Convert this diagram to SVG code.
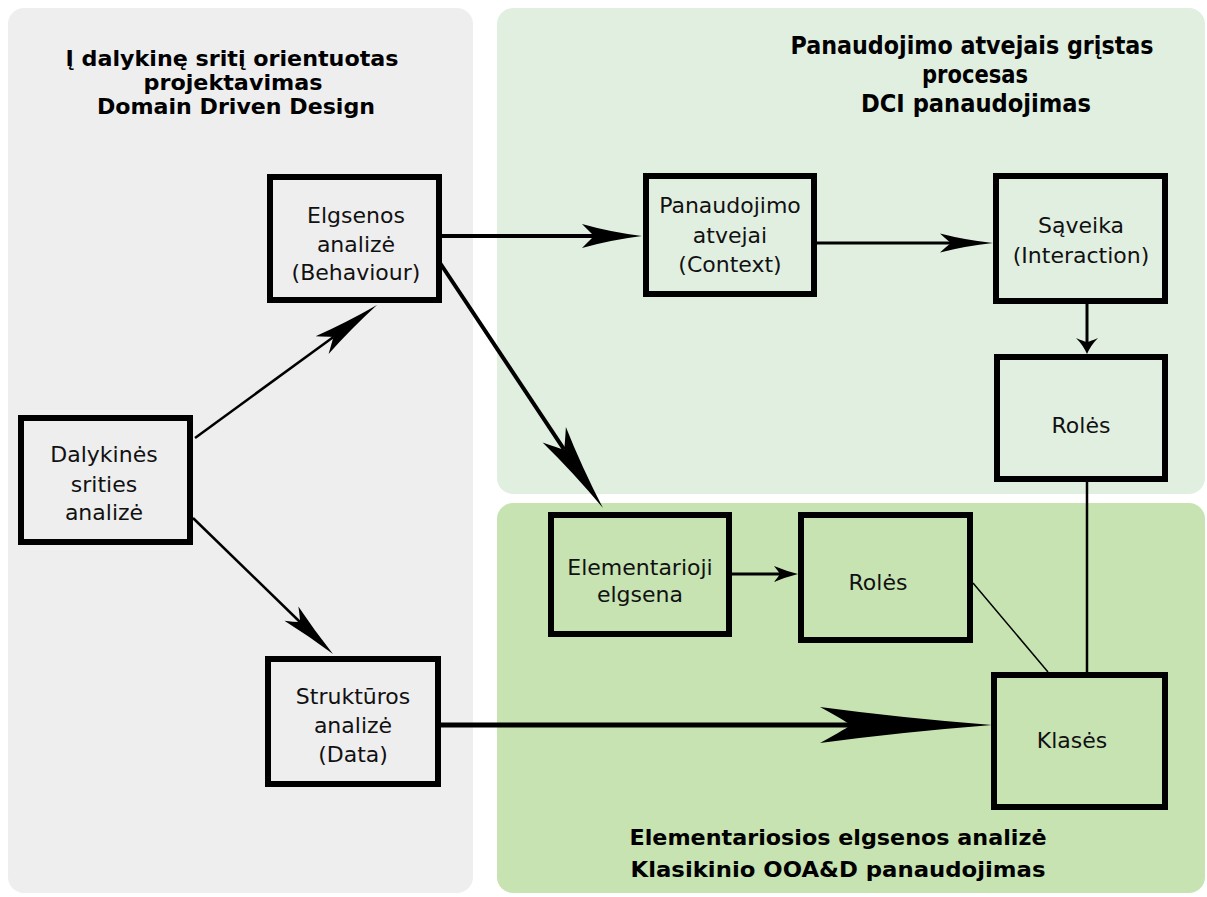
<svg xmlns="http://www.w3.org/2000/svg" width="1207" height="897" viewBox="0 0 1207 897">
  <style>
    .panel-gray { fill: #eeeeee; }
    .panel-light { fill: #e1efe1; }
    .panel-green { fill: #c6e3b1; }
    .box { stroke: #000; stroke-width: 6; }
    .box-gray { fill: #eeeeee; }
    .box-light { fill: #e1efe1; }
    .box-green { fill: #c6e3b1; }
    .label { font-family: "Comic Sans MS", "DejaVu Sans", sans-serif; font-size: 22px; fill: #111; text-anchor: middle; }
    .title { font-family: "DejaVu Sans", "Liberation Sans", sans-serif; font-size: 22px; font-weight: bold; fill: #000; text-anchor: middle; }
    .title-lg { font-size: 24px; }
    .edge { stroke: #000; fill: none; }
  </style>
  <defs>
    <!-- swept "swoop" arrowheads: tip at 0,0, ref point at the notch -->
    <marker id="hBig" markerUnits="userSpaceOnUse" markerWidth="200" markerHeight="40" refX="-141" refY="0" orient="auto" overflow="visible">
      <path d="M0,0 Q-90,-7 -172,-18 Q-150,-6 -141,0 Q-150,6 -172,18 Q-90,7 0,0 Z" fill="#000"/>
    </marker>
    <marker id="hMed" markerUnits="userSpaceOnUse" markerWidth="80" markerHeight="30" refX="-48" refY="0" orient="auto" overflow="visible">
      <path d="M0,0 Q-32,-4 -60,-12 Q-52,-4 -48,0 Q-52,4 -60,12 Q-32,4 0,0 Z" fill="#000"/>
    </marker>
    <marker id="hMed2" markerUnits="userSpaceOnUse" markerWidth="80" markerHeight="30" refX="-42" refY="0" orient="auto" overflow="visible">
      <path d="M0,0 Q-28,-3 -53,-9.5 Q-46,-3 -42,0 Q-46,3 -53,9.5 Q-28,3 0,0 Z" fill="#000"/>
    </marker>
    <marker id="hDiagA" markerUnits="userSpaceOnUse" markerWidth="80" markerHeight="30" refX="-54" refY="0" orient="auto" overflow="visible">
      <path d="M0,0 Q-36,-4 -68,-11 Q-59,-4 -54,0 Q-59,4 -68,11 Q-36,4 0,0 Z" fill="#000"/>
    </marker>
    <marker id="hDiagB" markerUnits="userSpaceOnUse" markerWidth="80" markerHeight="30" refX="-46" refY="0" orient="auto" overflow="visible">
      <path d="M0,0 Q-30,-4 -58,-10 Q-50,-4 -46,0 Q-50,4 -58,10 Q-30,4 0,0 Z" fill="#000"/>
    </marker>
    <marker id="hDiagC" markerUnits="userSpaceOnUse" markerWidth="100" markerHeight="40" refX="-70" refY="0" orient="auto" overflow="visible">
      <path d="M0,0 Q-46,-5 -88,-14 Q-76,-5 -70,0 Q-76,5 -88,14 Q-46,5 0,0 Z" fill="#000"/>
    </marker>
    <marker id="hSmall" markerUnits="userSpaceOnUse" markerWidth="30" markerHeight="30" refX="-12" refY="0" orient="auto" overflow="visible">
      <path d="M0,0 Q-9,-4 -16,-11 Q-13,-4 -12,0 Q-13,4 -16,11 Q-9,4 0,0 Z" fill="#000"/>
    </marker>
    <marker id="hSmall2" markerUnits="userSpaceOnUse" markerWidth="30" markerHeight="30" refX="-18" refY="0" orient="auto" overflow="visible">
      <path d="M0,0 Q-12,-3 -24,-8 Q-20,-3 -18,0 Q-20,3 -24,8 Q-12,3 0,0 Z" fill="#000"/>
    </marker>
  </defs>

  <rect width="1207" height="897" fill="#ffffff"/>

  <!-- background areas -->
  <g id="areas">
    <rect class="panel-gray" x="8" y="8" width="465" height="885" rx="16"/>
    <rect class="panel-light" x="497" y="8" width="708" height="486" rx="16"/>
    <rect class="panel-green" x="497" y="503" width="708" height="390" rx="16"/>
  </g>

  <!-- area titles -->
  <g id="titles">
    <text class="title" x="232" y="66" textLength="333" lengthAdjust="spacingAndGlyphs">Į dalykinę sritį orientuotas</text>
    <text class="title" x="233" y="90" textLength="179" lengthAdjust="spacingAndGlyphs">projektavimas</text>
    <text class="title" x="236" y="114" textLength="278" lengthAdjust="spacingAndGlyphs">Domain Driven Design</text>

    <text class="title title-lg" x="972" y="54" textLength="363" lengthAdjust="spacingAndGlyphs">Panaudojimo atvejais grįstas</text>
    <text class="title title-lg" x="975" y="83" textLength="106" lengthAdjust="spacingAndGlyphs">procesas</text>
    <text class="title title-lg" x="976" y="112" textLength="230" lengthAdjust="spacingAndGlyphs">DCI panaudojimas</text>

    <text class="title" x="838" y="845" textLength="417" lengthAdjust="spacingAndGlyphs">Elementariosios elgsenos analizė</text>
    <text class="title" x="838" y="877" textLength="415" lengthAdjust="spacingAndGlyphs">Klasikinio OOA&amp;D panaudojimas</text>
  </g>

  <!-- connectors -->
  <g id="connectors">
    <line class="edge" x1="195" y1="438" x2="333.4" y2="336.9" stroke-width="2.5" marker-end="url(#hDiagA)"/>
    <line class="edge" x1="193" y1="518" x2="300" y2="622" stroke-width="2.5" marker-end="url(#hDiagB)"/>
    <line class="edge" x1="442" y1="236" x2="594" y2="236" stroke-width="4" marker-end="url(#hMed)"/>
    <line class="edge" x1="440" y1="263" x2="564.2" y2="449.7" stroke-width="4" marker-end="url(#hDiagC)"/>
    <line class="edge" x1="817" y1="243" x2="951" y2="243" stroke-width="3" marker-end="url(#hMed2)"/>
    <line class="edge" x1="1087" y1="304" x2="1087" y2="342" stroke-width="3" marker-end="url(#hSmall)"/>
    <line class="edge" x1="1087" y1="482" x2="1087" y2="672" stroke-width="2.5"/>
    <line class="edge" x1="732" y1="574" x2="780" y2="574" stroke-width="3" marker-end="url(#hSmall2)"/>
    <line class="edge" x1="973" y1="583" x2="1048" y2="672" stroke-width="1.5"/>
    <line class="edge" x1="441" y1="725" x2="851" y2="725" stroke-width="5" marker-end="url(#hBig)"/>
  </g>

  <!-- nodes -->
  <g id="node-dalykines">
    <rect class="box box-gray" x="21" y="418" width="169" height="124"/>
    <text class="label" x="104" y="462">Dalykinės</text>
    <text class="label" x="104" y="492">srities</text>
    <text class="label" x="104" y="520">analizė</text>
  </g>
  <g id="node-elgsenos">
    <rect class="box box-gray" x="270" y="177" width="169" height="123"/>
    <text class="label" x="356" y="223">Elgsenos</text>
    <text class="label" x="356" y="252">analizė</text>
    <text class="label" x="356" y="280">(Behaviour)</text>
  </g>
  <g id="node-strukturos">
    <rect class="box box-gray" x="268" y="659" width="170" height="125"/>
    <text class="label" x="353" y="704">Struktūros</text>
    <text class="label" x="353" y="733">analizė</text>
    <text class="label" x="353" y="762">(Data)</text>
  </g>
  <g id="node-panaudojimo">
    <rect class="box box-light" x="646" y="176" width="168" height="118"/>
    <text class="label" x="730" y="213">Panaudojimo</text>
    <text class="label" x="730" y="243">atvejai</text>
    <text class="label" x="730" y="272">(Context)</text>
  </g>
  <g id="node-saveika">
    <rect class="box box-light" x="996" y="176" width="169" height="125"/>
    <text class="label" x="1081" y="233">Sąveika</text>
    <text class="label" x="1081" y="263">(Interaction)</text>
  </g>
  <g id="node-roles-dci">
    <rect class="box box-light" x="997" y="357" width="168" height="122"/>
    <text class="label" x="1081" y="433">Rolės</text>
  </g>
  <g id="node-elementarioji">
    <rect class="box box-green" x="551" y="515" width="178" height="119"/>
    <text class="label" x="640" y="575">Elementarioji</text>
    <text class="label" x="640" y="602">elgsena</text>
  </g>
  <g id="node-roles">
    <rect class="box box-green" x="801" y="515" width="169" height="125"/>
    <text class="label" x="878" y="590">Rolės</text>
  </g>
  <g id="node-klases">
    <rect class="box box-green" x="994" y="675" width="171" height="132"/>
    <text class="label" x="1072" y="748">Klasės</text>
  </g>
</svg>
